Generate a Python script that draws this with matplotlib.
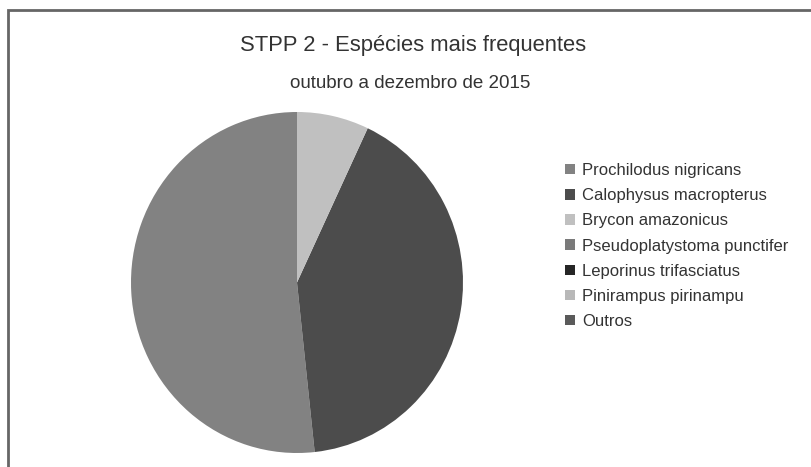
import matplotlib.pyplot as plt
from matplotlib.patches import Rectangle, Patch

plt.rcParams['font.family'] = ['Liberation Sans', 'DejaVu Sans']

# Species catch share (%), Oct-Dec 2015
especies = ["Prochilodus nigricans", "Calophysus macropterus", "Brycon amazonicus",
            "Pseudoplatystoma punctifer", "Leporinus trifasciatus",
            "Pinirampus pirinampu", "Outros"]
percentual = [51.7, 41.3, 7.0, 0, 0, 0, 0]
cores = ["#828282", "#4c4c4c", "#c0c0c0", "#7a7a7a", "#262626", "#b8b8b8", "#5a5a5a"]

W, H = 812, 467
fig = plt.figure(figsize=(W / 100, H / 100), dpi=100)
fig.patch.set_facecolor("white")

# chart frame (runs past the right and bottom edges)
fig.patches.append(Rectangle((8 / W, -0.1), 1.1, (H - 10) / H + 0.1,
                             transform=fig.transFigure, fill=False,
                             edgecolor="#666666", linewidth=2))

ax = fig.add_axes([131 / W, 14 / H, 332 / W, 341 / H])
ax.pie(percentual, colors=cores, startangle=90, counterclock=True,
       wedgeprops=dict(linewidth=0))
ax.set_aspect("auto")
ax.set_xlim(-1, 1)
ax.set_ylim(-1, 1)
ax.axis("off")

fig.text(413 / W, 1 - 46 / H, "STPP 2 - Espécies mais frequentes",
         ha="center", va="center", fontsize=15.8, color="#333333")
fig.text(410 / W, 1 - 84 / H, "outubro a dezembro de 2015",
         ha="center", va="center", fontsize=13.5, color="#333333")

handles = [Patch(facecolor=c, edgecolor="none") for c in cores]
fig.legend(handles, especies, loc="upper left", bbox_to_anchor=(565 / W, 1 - 163 / H),
           frameon=False, fontsize=12, labelcolor="#333333",
           handlelength=0.6, handleheight=0.6, handletextpad=0.42,
           labelspacing=0.61, borderpad=0, borderaxespad=0)

fig.savefig("out.png", dpi=100)
